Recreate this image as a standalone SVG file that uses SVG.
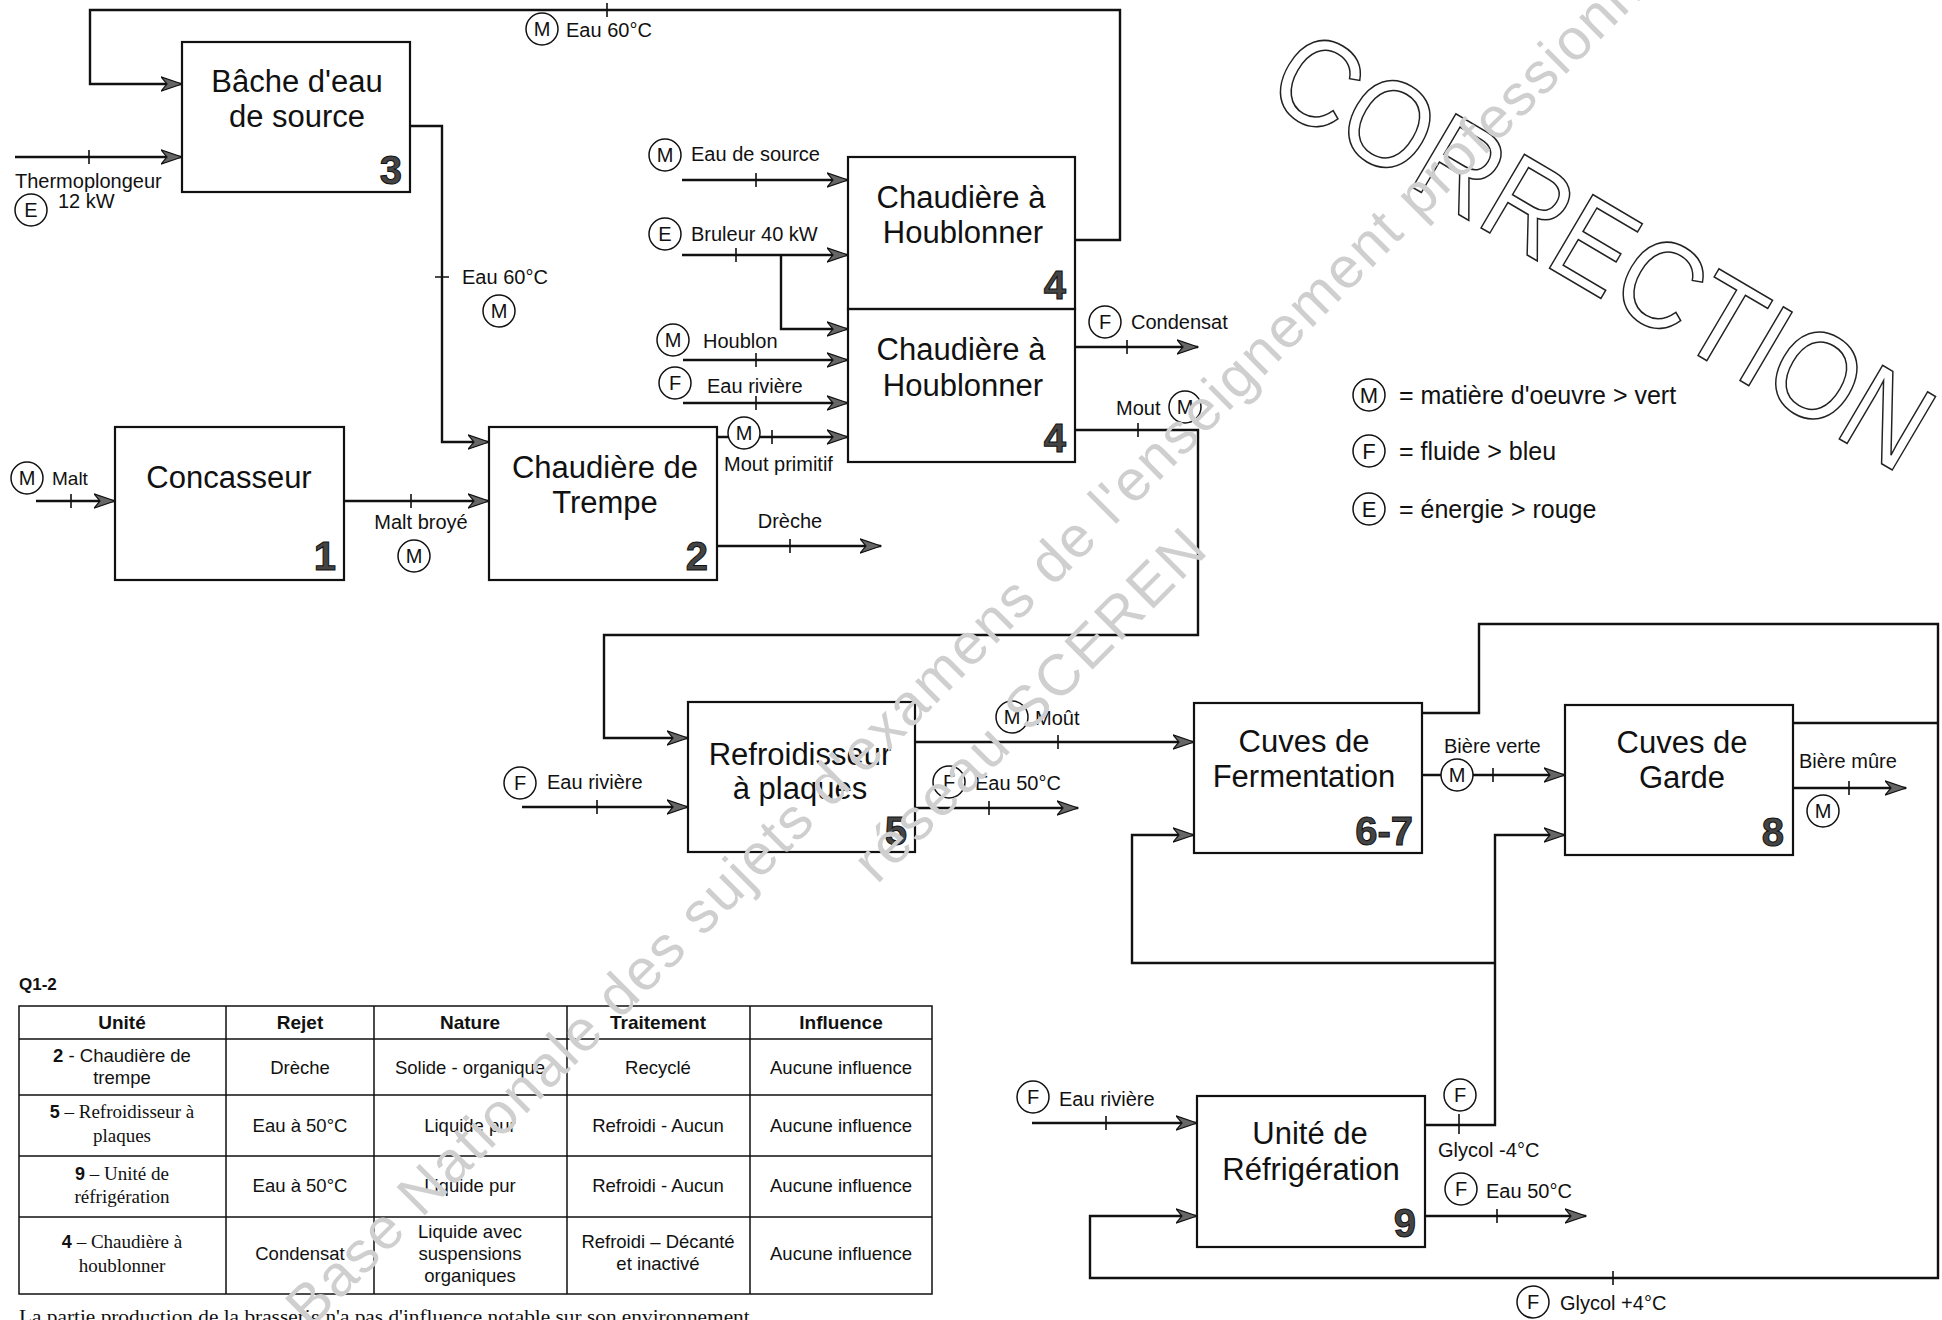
<svg xmlns="http://www.w3.org/2000/svg" width="1942" height="1320" viewBox="0 0 1942 1320">
<defs>
<style>
.t{font-family:"Liberation Sans",Arial,sans-serif;fill:#111}
.s{font-family:"Liberation Serif","Times New Roman",serif;fill:#111}
.box{fill:none;stroke:#111;stroke-width:2.2}
.title{font-size:31px;text-anchor:middle}
.num{font-size:40px;font-weight:bold;text-anchor:end;fill:#444;stroke:#111;stroke-width:1}
.lbl{font-size:20px}
.mid{text-anchor:middle}
.ln{fill:none;stroke:#111;stroke-width:2.4}
.arr{marker-end:url(#ah)}
.tick{stroke:#111;stroke-width:1.6}
.cir{fill:#fff;stroke:#111;stroke-width:1.5}
.cl{font-size:20px;text-anchor:middle}
.grid{stroke:#111;stroke-width:1.5;fill:none}
.th{font-size:19px;font-weight:bold;text-anchor:middle}
.td{font-size:18.5px;text-anchor:middle}
.tds{font-size:19px;text-anchor:middle}
.wm{font-family:"Liberation Sans",Arial,sans-serif;font-size:58px;fill:#cfcfcf}
</style>
<marker id="ah" markerUnits="userSpaceOnUse" markerWidth="22" markerHeight="16" viewBox="0 0 22 16" refX="21" refY="8" orient="auto">
<path d="M0,0.8 L21,8 L0,15.2 L6,8 Z" fill="#666" stroke="#111" stroke-width="1.2"/>
</marker>
</defs>
<rect width="1942" height="1320" fill="#fff"/>

<!-- CORRECTION stamp -->
<text transform="translate(1604,248) rotate(30.5)" x="0" y="45" text-anchor="middle" font-family="Liberation Sans, Arial, sans-serif" font-size="124" textLength="740" lengthAdjust="spacingAndGlyphs" fill="#fff" stroke="#222" stroke-width="1.6">CORRECTION</text>

<!-- nodes -->
<g id="node-3">
<rect class="box" x="182" y="42" width="228" height="150"/>
<text class="t title" x="297" y="92">Bâche d'eau</text>
<text class="t title" x="297" y="127">de source</text>
<text class="t num" x="402" y="184">3</text>
</g>
<g id="node-1">
<rect class="box" x="115" y="427" width="229" height="153"/>
<text class="t title" x="229" y="488">Concasseur</text>
<text class="t num" x="336" y="570">1</text>
</g>
<g id="node-2">
<rect class="box" x="489" y="427" width="228" height="153"/>
<text class="t title" x="605" y="478">Chaudière de</text>
<text class="t title" x="605" y="513">Trempe</text>
<text class="t num" x="708" y="570">2</text>
</g>
<g id="node-4a">
<rect class="box" x="848" y="157" width="227" height="152"/>
<text class="t title" x="961" y="208">Chaudière à</text>
<text class="t title" x="963" y="243">Houblonner</text>
<text class="t num" x="1066" y="299">4</text>
</g>
<g id="node-4b">
<rect class="box" x="848" y="309" width="227" height="153"/>
<text class="t title" x="961" y="360">Chaudière à</text>
<text class="t title" x="963" y="396">Houblonner</text>
<text class="t num" x="1066" y="452">4</text>
</g>
<g id="node-5">
<rect class="box" x="688" y="702" width="227" height="150"/>
<text class="t title" x="800" y="765">Refroidisseur</text>
<text class="t title" x="800" y="799">à plaques</text>
<text class="t num" x="907" y="845">5</text>
</g>
<g id="node-6-7">
<rect class="box" x="1194" y="703" width="228" height="150"/>
<text class="t title" x="1304" y="752">Cuves de</text>
<text class="t title" x="1304" y="787">Fermentation</text>
<text class="t num" x="1413" y="845">6-7</text>
</g>
<g id="node-8">
<rect class="box" x="1565" y="705" width="228" height="150"/>
<text class="t title" x="1682" y="753">Cuves de</text>
<text class="t title" x="1682" y="788">Garde</text>
<text class="t num" x="1784" y="846">8</text>
</g>
<g id="node-9">
<rect class="box" x="1197" y="1096" width="228" height="151"/>
<text class="t title" x="1310" y="1144">Unité de</text>
<text class="t title" x="1311" y="1180">Réfrigération</text>
<text class="t num" x="1416" y="1237">9</text>
</g>

<!-- connectors -->
<g id="connectors">
<path class="ln arr" d="M1075,240 H1120 V10 H90 V84 H182"/>
<path class="ln arr" d="M15,157 H182"/>
<path class="ln arr" d="M410,126 H442 V442 H489"/>
<path class="ln arr" d="M36,501 H115"/>
<path class="ln arr" d="M344,501 H489"/>
<path class="ln arr" d="M717,546 H881"/>
<path class="ln arr" d="M717,437 H848"/>
<path class="ln arr" d="M682,180 H848"/>
<path class="ln arr" d="M682,255 H848"/>
<path class="ln arr" d="M781,255 V329 H848"/>
<path class="ln arr" d="M683,360 H848"/>
<path class="ln arr" d="M683,403 H848"/>
<path class="ln arr" d="M1075,347 H1198"/>
<path class="ln arr" d="M1075,430 H1198 V635 H604 V738 H688"/>
<path class="ln arr" d="M522,807 H688"/>
<path class="ln arr" d="M915,742 H1194"/>
<path class="ln arr" d="M915,808 H1078"/>
<path class="ln arr" d="M1422,775 H1565"/>
<path class="ln arr" d="M1793,788 H1906"/>
<path class="ln arr" d="M1422,713 H1479 V624 H1938 V1278 H1090 V1216 H1197"/>
<path class="ln" d="M1793,723 H1938"/>
<path class="ln arr" d="M1032,1123 H1197"/>
<path class="ln arr" d="M1425,1125 H1495 V835 H1565"/>
<path class="ln arr" d="M1495,963 H1132 V835 H1194"/>
<path class="ln arr" d="M1425,1216 H1586"/>

<g id="ticks">
<path class="tick" d="M607,3 V17 M89,150 V164 M435,277 H449 M71,494 V508 M411,494 V508 M790,539 V553 M772,430 V444 M756,173 V187 M736,248 V262 M756,353 V367 M756,396 V410 M1127,340 V354 M1138,423 V437 M597,800 V814 M1058,735 V749 M989,801 V815 M1493,768 V782 M1849,781 V795 M1613,1271 V1285 M1106,1116 V1130 M1459,1114 V1134 M1497,1209 V1223"/>
</g>

<g id="flow-labels">
<circle class="cir" cx="542" cy="29" r="16"/><text class="t cl" x="542" y="36">M</text>
<text class="t lbl" x="566" y="37">Eau 60°C</text>

<text class="t lbl" x="15" y="188">Thermoplongeur</text>
<circle class="cir" cx="31" cy="210" r="16"/><text class="t cl" x="31" y="217">E</text>
<text class="t lbl" x="58" y="208">12 kW</text>

<text class="t lbl" x="462" y="284">Eau 60°C</text>
<circle class="cir" cx="499" cy="311" r="16"/><text class="t cl" x="499" y="318">M</text>

<circle class="cir" cx="27" cy="478" r="16"/><text class="t cl" x="27" y="485">M</text>
<text class="t lbl" x="52" y="485" style="font-size:19px">Malt</text>

<text class="t lbl mid" x="421" y="529">Malt broyé</text>
<circle class="cir" cx="414" cy="556" r="16"/><text class="t cl" x="414" y="563">M</text>

<text class="t lbl mid" x="790" y="528">Drèche</text>

<circle class="cir" cx="744" cy="433" r="16"/><text class="t cl" x="744" y="440">M</text>
<text class="t lbl" x="724" y="471">Mout primitif</text>

<circle class="cir" cx="665" cy="155" r="16"/><text class="t cl" x="665" y="162">M</text>
<text class="t lbl" x="691" y="161">Eau de source</text>

<circle class="cir" cx="665" cy="234" r="16"/><text class="t cl" x="665" y="241">E</text>
<text class="t lbl" x="691" y="241">Bruleur 40 kW</text>

<circle class="cir" cx="673" cy="340" r="16"/><text class="t cl" x="673" y="347">M</text>
<text class="t lbl" x="703" y="348">Houblon</text>

<circle class="cir" cx="675" cy="383" r="16"/><text class="t cl" x="675" y="390">F</text>
<text class="t lbl" x="707" y="393">Eau rivière</text>

<circle class="cir" cx="1105" cy="322" r="16"/><text class="t cl" x="1105" y="329">F</text>
<text class="t lbl" x="1131" y="329">Condensat</text>

<text class="t lbl" x="1116" y="415">Mout</text>
<circle class="cir" cx="1185" cy="407" r="16"/><text class="t cl" x="1185" y="414">M</text>

<circle class="cir" cx="520" cy="783" r="16"/><text class="t cl" x="520" y="790">F</text>
<text class="t lbl" x="547" y="789">Eau rivière</text>

<circle class="cir" cx="1012" cy="717" r="16"/><text class="t cl" x="1012" y="724">M</text>
<text class="t lbl" x="1035" y="725">Moût</text>

<circle class="cir" cx="949" cy="782" r="16"/><text class="t cl" x="949" y="789">F</text>
<text class="t lbl" x="975" y="790">Eau 50°C</text>

<text class="t lbl" x="1444" y="753">Bière verte</text>
<circle class="cir" cx="1457" cy="775" r="16"/><text class="t cl" x="1457" y="782">M</text>

<text class="t lbl" x="1799" y="768">Bière mûre</text>
<circle class="cir" cx="1823" cy="811" r="16"/><text class="t cl" x="1823" y="818">M</text>

<circle class="cir" cx="1033" cy="1097" r="16"/><text class="t cl" x="1033" y="1104">F</text>
<text class="t lbl" x="1059" y="1106">Eau rivière</text>

<circle class="cir" cx="1460" cy="1095" r="16"/><text class="t cl" x="1460" y="1102">F</text>
<text class="t lbl" x="1438" y="1157">Glycol -4°C</text>

<circle class="cir" cx="1461" cy="1189" r="16"/><text class="t cl" x="1461" y="1196">F</text>
<text class="t lbl" x="1486" y="1198">Eau 50°C</text>

<circle class="cir" cx="1533" cy="1302" r="16"/><text class="t cl" x="1533" y="1309">F</text>
<text class="t lbl" x="1560" y="1310">Glycol +4°C</text>
</g>
</g>

<!-- legend -->
<g id="legend">
<circle class="cir" cx="1369" cy="395" r="16"/><text class="t" x="1369" y="403" text-anchor="middle" font-size="22">M</text>
<text class="t" x="1399" y="404" font-size="25">= matière d'oeuvre &gt; vert</text>
<circle class="cir" cx="1369" cy="451" r="16"/><text class="t" x="1369" y="459" text-anchor="middle" font-size="22">F</text>
<text class="t" x="1399" y="460" font-size="25">= fluide &gt; bleu</text>
<circle class="cir" cx="1369" cy="509" r="16"/><text class="t" x="1369" y="517" text-anchor="middle" font-size="22">E</text>
<text class="t" x="1399" y="518" font-size="25">= énergie &gt; rouge</text>
</g>

<!-- table -->
<g id="table">
<text class="t" x="19" y="990" font-size="17" font-weight="bold">Q1-2</text>
<rect class="grid" x="19" y="1006" width="913" height="288"/>
<path class="grid" d="M226,1006 V1294 M374,1006 V1294 M567,1006 V1294 M750,1006 V1294 M19,1039 H932 M19,1095 H932 M19,1156 H932 M19,1217 H932"/>
<text class="t th" x="122" y="1029">Unité</text>
<text class="t th" x="300" y="1029">Rejet</text>
<text class="t th" x="470" y="1029">Nature</text>
<text class="t th" x="658" y="1029">Traitement</text>
<text class="t th" x="841" y="1029">Influence</text>

<text class="t td" x="122" y="1062"><tspan font-weight="bold">2</tspan> - Chaudière de</text>
<text class="t td" x="122" y="1084">trempe</text>
<text class="t td" x="300" y="1074">Drèche</text>
<text class="t td" x="470" y="1074">Solide - organique</text>
<text class="t td" x="658" y="1074">Recyclé</text>
<text class="t td" x="841" y="1074">Aucune influence</text>

<text class="s tds" x="122" y="1118"><tspan class="t" font-weight="bold" font-size="18">5</tspan> – Refroidisseur à</text>
<text class="s tds" x="122" y="1142">plaques</text>
<text class="t td" x="300" y="1132">Eau à 50°C</text>
<text class="t td" x="470" y="1132">Liquide pur</text>
<text class="t td" x="658" y="1132">Refroidi - Aucun</text>
<text class="t td" x="841" y="1132">Aucune influence</text>

<text class="s tds" x="122" y="1180"><tspan class="t" font-weight="bold" font-size="18">9</tspan> – Unité de</text>
<text class="s tds" x="122" y="1203">réfrigération</text>
<text class="t td" x="300" y="1192">Eau à 50°C</text>
<text class="t td" x="470" y="1192">Liquide pur</text>
<text class="t td" x="658" y="1192">Refroidi - Aucun</text>
<text class="t td" x="841" y="1192">Aucune influence</text>

<text class="s tds" x="122" y="1248"><tspan class="t" font-weight="bold" font-size="18">4</tspan> – Chaudière à</text>
<text class="s tds" x="122" y="1272">houblonner</text>
<text class="t td" x="300" y="1260">Condensat</text>
<text class="t td" x="470" y="1238">Liquide avec</text>
<text class="t td" x="470" y="1260">suspensions</text>
<text class="t td" x="470" y="1282">organiques</text>
<text class="t td" x="658" y="1248">Refroidi – Décanté</text>
<text class="t td" x="658" y="1270">et inactivé</text>
<text class="t td" x="841" y="1260">Aucune influence</text>

<text class="s" x="19" y="1323" font-size="19" textLength="736" lengthAdjust="spacingAndGlyphs">La partie production de la brasserie n'a pas d'influence notable sur son environnement.</text>
</g>

<!-- watermark -->
<g id="watermark">
<text class="wm" transform="translate(310,1330) rotate(-45)" x="0" y="0" textLength="1937" lengthAdjust="spacing">Base Nationale des sujets d'examens de l'enseignement professionnel</text>
<text class="wm" transform="translate(877,885) rotate(-45)" x="0" y="0" textLength="470" lengthAdjust="spacing">réseau SCEREN</text>
</g>
</svg>
